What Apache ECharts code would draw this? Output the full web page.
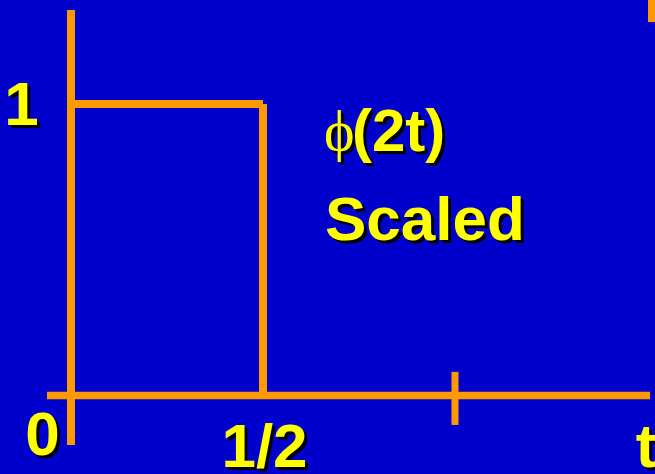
<!DOCTYPE html>
<html>
<head>
<meta charset="utf-8">
<script src="https://cdn.jsdelivr.net/npm/echarts@6/dist/echarts.min.js"></script>
<style>
html, body { margin: 0; padding: 0; background: #0000cc; }
#main { width: 655px; height: 474px; }
</style>
</head>
<body>
<div id="main"></div>
<script>
// scaled box function phi(2t): value 1 on [0, 1/2], 0 afterwards
const pulseTop = [[0, 1], [0.5, 1]];
const pulseDrop = [[0.5, 1], [0.5, 0]];
const tAxisLine = [[-0.0625, 0], [1.508, 0]];
const phiAxisLine = [[0, -0.17], [0, 1.3225]];
const unitTick = [[1, -0.101], [1, 0.081]];
const edgeMark = [[1.5117, 1.281], [1.5117, 1.36]];
// tick labels: [text, t, phi]
const tLabels = [['0', 0, 0], ['1/2', 0.5, 0], ['t', 1.508, 0]];
const phiLabels = [['1', 0, 1]];

const ORANGE = '#ff9900';
const YELLOW = '#ffff00';
const chart = echarts.init(document.getElementById('main'), null, { renderer: 'canvas' });

function seg(data, width) {
  return {
    type: 'line',
    data: data,
    showSymbol: false,
    silent: true,
    animation: false,
    lineStyle: { color: ORANGE, width: width, cap: 'butt' }
  };
}

chart.setOption({
  backgroundColor: '#0000cc',
  animation: false,
  grid: { left: 0, right: 0, top: 0, bottom: 0, containLabel: false },
  xAxis: { type: 'value', min: -71 / 384, max: 584 / 384, show: false },
  yAxis: { type: 'value', min: -78.5 / 291.5, max: 395.5 / 291.5, show: false },
  series: [
    seg(tAxisLine, 7.5),
    seg(unitTick, 7),
    seg(phiAxisLine, 8),
    seg(pulseTop, 8),
    seg(pulseDrop, 8),
    seg(edgeMark, 7)
  ]
});

function shadowText(x, y, text, font, align) {
  const base = { text: text, font: font, align: align, textAlign: align, verticalAlign: 'middle', textVerticalAlign: 'middle' };
  return [
    { type: 'text', x: x + 3, y: y + 3, silent: true, style: Object.assign({ fill: '#000000' }, base) },
    { type: 'text', x: x, y: y, silent: true, style: Object.assign({ fill: YELLOW }, base) }
  ];
}

const big = 'bold 62px "Liberation Sans", Arial, sans-serif';
// label offsets from their anchor point, in pixels
const labelShift = { '0': [-28.5, 42], '1/2': [1.5, 54], 't': [-4, 54], '1': [-49.5, 4] };

let texts = [];
tLabels.concat(phiLabels).forEach(function (l) {
  const p = chart.convertToPixel({ gridIndex: 0 }, [l[1], l[2]]);
  const d = labelShift[l[0]];
  texts = texts.concat(shadowText(p[0] + d[0], p[1] + d[1], l[0], big, 'center'));
});
texts = texts.concat(shadowText(324, 135, 'ϕ', '58px "Liberation Serif", "DejaVu Serif", serif', 'left'));
texts = texts.concat(shadowText(352, 134, '(2t)', 'bold 60px "Liberation Sans", Arial, sans-serif', 'left'));
texts = texts.concat(shadowText(325, 222.5, 'Scaled', big, 'left'));

chart.setOption({ graphic: { elements: texts } });
</script>
</body>
</html>
